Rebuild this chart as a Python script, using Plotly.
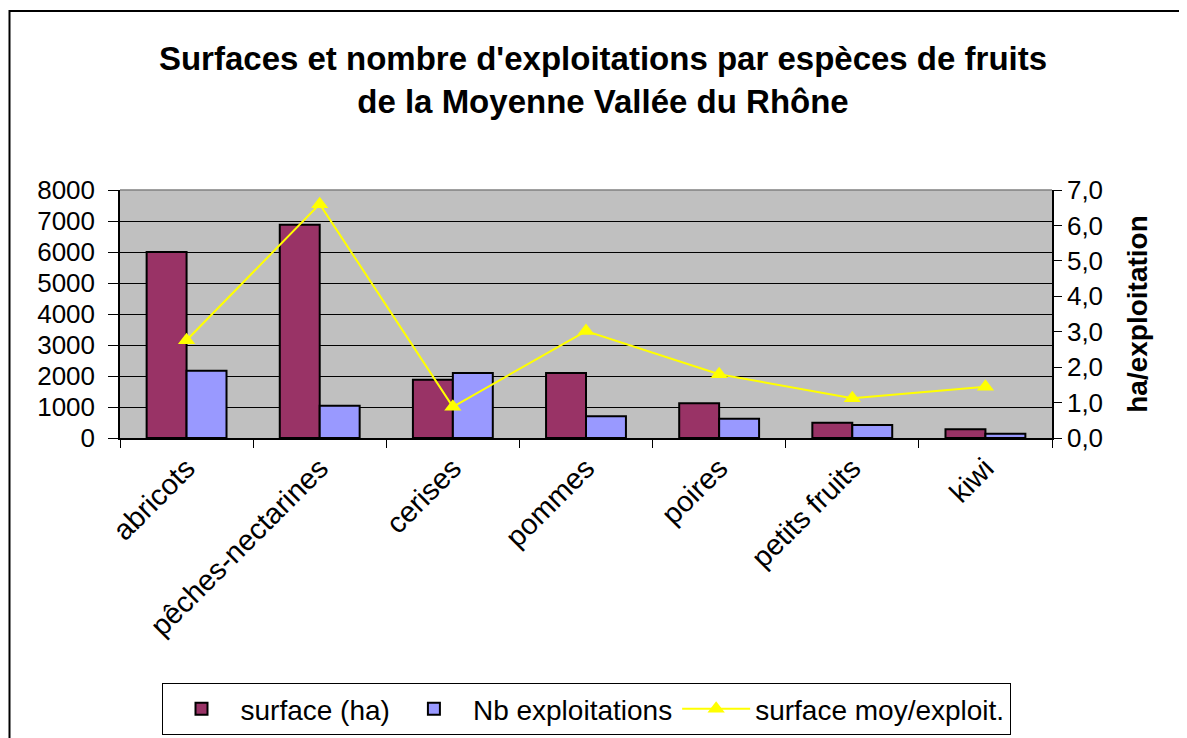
import plotly.graph_objects as go

categories = ["abricots", "pêches-nectarines", "cerises", "pommes", "poires", "petits fruits", "kiwi"]
surface_ha = [6000, 6880, 1880, 2100, 1120, 490, 280]
nb_exploitations = [2170, 1040, 2100, 700, 620, 420, 140]
surface_moy = [2.76, 6.6, 0.88, 3.02, 1.8, 1.12, 1.45]

FONT = "Liberation Sans, Arial, sans-serif"

OFF = 8  # page body margin
W, H = 1187 - OFF, 738 - OFF
# plot area in page pixels
L, R, T, B = 120, 1052, 190, 438

def px(x):
    return (x - L) / (R - L)

def py(y):
    return (B - y) / (B - T)

fig = go.Figure()
fig.add_trace(go.Bar(
    x=categories, y=surface_ha, name="surface (ha)",
    marker=dict(color="#993366", line=dict(color="black", width=2)),
))
fig.add_trace(go.Bar(
    x=categories, y=nb_exploitations, name="Nb exploitations",
    marker=dict(color="#9999FF", line=dict(color="black", width=2)),
))
fig.add_trace(go.Scatter(
    x=categories, y=surface_moy, name="surface moy/exploit.", yaxis="y2",
    mode="lines+markers",
    line=dict(color="#FFFF00", width=2),
    marker=dict(symbol="triangle-up", size=15, color="#FFFF00"),
))

fig.update_layout(
    width=W, height=H,
    margin=dict(l=L - OFF, r=W - (R - OFF), t=T - OFF, b=H - (B - OFF), autoexpand=False),
    paper_bgcolor="white",
    plot_bgcolor="#C0C0C0",
    separators=", ",
    font=dict(family=FONT, size=26, color="black"),
    barmode="group", bargap=0.4, bargroupgap=0,
    title=dict(
        text="<b>Surfaces et nombre d'exploitations par espèces de fruits<br>de la Moyenne Vallée du Rhône</b>",
        x=(603 - OFF) / W, xanchor="center",
        y=1 - (70 - OFF) / H, yanchor="top", yref="container",
        font=dict(family=FONT, size=33, color="black"),
    ),
    xaxis=dict(
        type="category", tickangle=-45, tickson="boundaries",
        ticks="outside", ticklen=8, tickcolor="black",
        showline=True, linecolor="black", linewidth=1.5,
        showgrid=False, tickfont=dict(size=29),
    ),
    yaxis=dict(
        range=[0, 8000], dtick=1000, tickformat="d",
        ticks="outside", ticklen=10, tickcolor="black",
        showline=True, linecolor="black", linewidth=1.5,
        showgrid=True, gridcolor="black", gridwidth=1,
        zeroline=False, tickfont=dict(size=26), ticklabelstandoff=8,
    ),
    yaxis2=dict(
        overlaying="y", side="right",
        range=[0, 7], dtick=1, tickformat=".1f",
        ticks="outside", ticklen=8, tickcolor="black",
        showline=True, linecolor="black", linewidth=1.5,
        showgrid=False, zeroline=False, tickfont=dict(size=26),
        title=dict(text="<b>ha/exploitation</b>", font=dict(size=28), standoff=25),
    ),
    legend=dict(
        orientation="h", x=px(586), xanchor="center", y=py(683), yanchor="top",
        bordercolor="black", borderwidth=1, bgcolor="white",
        font=dict(size=28), itemwidth=68, traceorder="normal",
    ),
    showlegend=True,
)

# top edge of plot area (gray)
fig.add_shape(type="line", xref="paper", yref="paper", x0=0, x1=1, y0=1, y1=1,
              line=dict(color="#808080", width=1.5))
# outer chart frame
fig.add_shape(type="rect", xref="paper", yref="paper",
              x0=px(9.5), x1=px(1200), y0=py(11), y1=py(760),
              line=dict(color="black", width=2), fillcolor="rgba(0,0,0,0)", layer="above")

fig.write_html("out.html")
